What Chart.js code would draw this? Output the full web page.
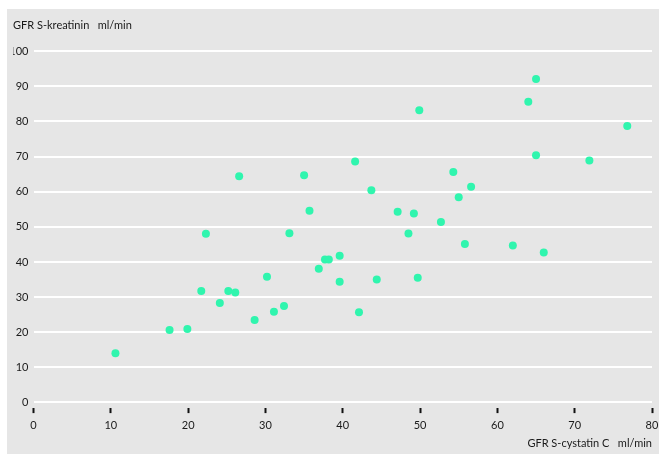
<!DOCTYPE html>
<html>
<head>
<meta charset="utf-8">
<script src="https://cdn.jsdelivr.net/npm/chart.js@4"></script>
<style>
  body { margin: 0; background: #fff; }
  #box { position: absolute; left: 7px; top: 9px; width: 652px; height: 445px; background: #e6e6e6; }
</style>
</head>
<body>
<div id="box"><canvas id="myChart" width="652" height="445"></canvas></div>
<script>
  // GFR estimated from cystatin C (x) vs creatinine (y), ml/min
  const cystatin = [10.6, 17.6, 19.9, 21.7, 22.3, 24.1, 25.2, 26.1, 26.6, 28.6,
    30.2, 31.1, 32.4, 33.1, 35.0, 35.7, 36.9, 37.7, 38.2, 39.6,
    39.6, 41.6, 42.1, 43.7, 44.4, 47.1, 48.5, 49.2, 49.7, 49.9,
    52.7, 54.3, 55.0, 55.8, 56.6, 62.0, 64.0, 65.0, 65.0, 66.0,
    71.9, 76.8];
  const kreatinin = [14.0, 20.6, 20.9, 31.7, 48.0, 28.3, 31.7, 31.3, 64.4, 23.5,
    35.8, 25.8, 27.5, 48.2, 64.7, 54.6, 38.1, 40.7, 40.7, 34.4,
    41.8, 68.6, 25.7, 60.4, 35.0, 54.3, 48.1, 53.8, 35.5, 83.2,
    51.4, 65.6, 58.4, 45.1, 61.4, 44.7, 85.6, 70.4, 92.1, 42.7,
    68.9, 78.7];
  const xTicks = [0, 10, 20, 30, 40, 50, 60, 70, 80];
  const yTicks = [0, 10, 20, 30, 40, 50, 60, 70, 80, 90, 100];

  const points = cystatin.map((x, i) => ({ x: x, y: kreatinin[i] }));
  const font = { family: 'Lato', size: 11, weight: 'normal' };

  const config = {
    type: 'scatter',
    data: {
      datasets: [{
        data: points,
        backgroundColor: '#30f5ae',
        borderWidth: 0,
        pointRadius: 4,
        pointHoverRadius: 4
      }]
    },
    options: {
      responsive: false,
      animation: false,
      layout: {
        padding: { left: 6, right: 7, top: 0, bottom: 0.5 }
      },
      plugins: {
        legend: { display: false },
        tooltip: { enabled: false },
        title: {
          display: true,
          text: 'GFR S-kreatinin   ml/min',
          align: 'start',
          color: '#1a1a1a',
          font: font,
          padding: { top: 10, bottom: 19 }
        }
      },
      scales: {
        x: {
          type: 'linear',
          min: 0,
          max: 80,
          afterBuildTicks: (scale) => { scale.ticks = xTicks.map(v => ({ value: v })); },
          // don't reserve extra room for the "80" label, the layout padding covers it
          afterFit: (scale) => { scale.paddingRight = 0; },
          border: { display: false },
          grid: {
            drawOnChartArea: false,
            drawTicks: true,
            tickLength: 5,
            tickWidth: 2,
            tickColor: '#111'
          },
          ticks: { color: '#1a1a1a', font: font, padding: 6 },
          title: {
            display: true,
            text: 'GFR S-cystatin C   ml/min',
            align: 'end',
            color: '#1a1a1a',
            font: font,
            padding: { top: -1, bottom: 3 }
          }
        },
        y: {
          type: 'linear',
          // a little below zero so the x tick marks sit under the 0 line
          min: -1.6,
          max: 100,
          afterBuildTicks: (scale) => { scale.ticks = yTicks.map(v => ({ value: v })); },
          afterFit: (scale) => { scale.width = 20.5; },
          border: { display: false },
          grid: {
            color: '#ffffff',
            lineWidth: 2,
            drawTicks: false
          },
          ticks: { color: '#1a1a1a', font: font, padding: 5 }
        }
      }
    }
  };

  const myChart = new Chart(document.getElementById('myChart'), config);
</script>
</body>
</html>
